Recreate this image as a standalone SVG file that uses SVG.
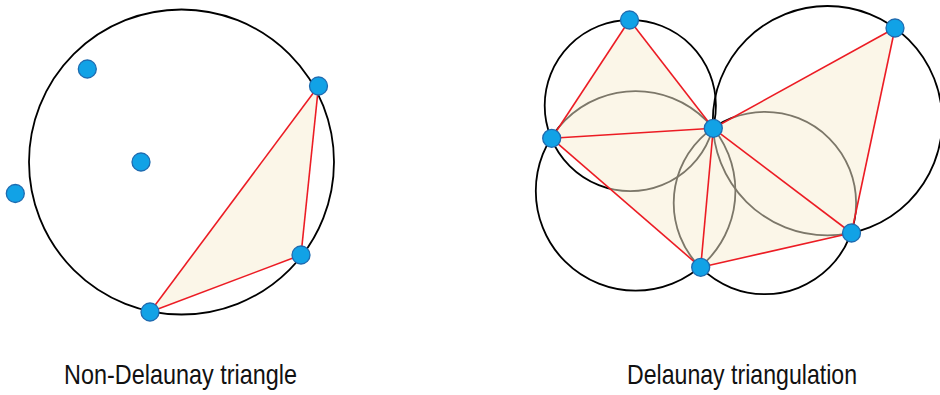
<svg xmlns="http://www.w3.org/2000/svg" width="940" height="395" viewBox="0 0 940 395">
<style>
.circ{fill:none;stroke:#000;stroke-width:1.8}
.tri{fill:#f8edd2;fill-opacity:0.5;stroke:none}
.edge{stroke:#ec1c24;stroke-width:1.6;fill:none}
.dot{fill:#11a2e6;stroke:#1e6bb0;stroke-width:1.3}
.lbl{font-family:"Liberation Sans",Arial,sans-serif;font-size:28px;fill:#111}
</style>
<rect width="940" height="395" fill="#fff"/>
<g id="circles">
<circle class="circ" cx="181.5" cy="162" r="152.5"/>
<circle class="circ" cx="630.3" cy="105.6" r="85.6"/>
<circle class="circ" cx="635.6" cy="190.9" r="99.8"/>
<circle class="circ" cx="827.5" cy="120.7" r="114.7"/>
<circle class="circ" cx="764.9" cy="203" r="91.2"/>
</g>
<g id="triangles">
<polygon class="tri" points="318.5,86 301,255 150,312"/>
<polygon class="tri" points="629.5,20 551.7,138.3 713.3,128.3"/>
<polygon class="tri" points="551.7,138.3 713.3,128.3 700.7,267.3"/>
<polygon class="tri" points="713.3,128.3 700.7,267.3 851.5,233"/>
<polygon class="tri" points="713.3,128.3 851.5,233 895,28"/>
</g>
<g id="connectors">
<line class="edge" x1="318.5" y1="86" x2="301" y2="255"/>
<line class="edge" x1="301" y1="255" x2="150" y2="312"/>
<line class="edge" x1="150" y1="312" x2="318.5" y2="86"/>
<line class="edge" x1="629.5" y1="20" x2="551.7" y2="138.3"/>
<line class="edge" x1="629.5" y1="20" x2="713.3" y2="128.3"/>
<line class="edge" x1="551.7" y1="138.3" x2="713.3" y2="128.3"/>
<line class="edge" x1="551.7" y1="138.3" x2="700.7" y2="267.3"/>
<line class="edge" x1="713.3" y1="128.3" x2="700.7" y2="267.3"/>
<line class="edge" x1="700.7" y1="267.3" x2="851.5" y2="233"/>
<line class="edge" x1="713.3" y1="128.3" x2="851.5" y2="233"/>
<line class="edge" x1="713.3" y1="128.3" x2="895" y2="28"/>
<line class="edge" x1="895" y1="28" x2="851.5" y2="233"/>
</g>
<g id="nodeL1"><circle class="dot" cx="87.3" cy="69" r="9"/></g>
<g id="nodeL2"><circle class="dot" cx="141" cy="162" r="9"/></g>
<g id="nodeL3"><circle class="dot" cx="15.3" cy="193.5" r="9"/></g>
<g id="nodeL4"><circle class="dot" cx="318.5" cy="86" r="9"/></g>
<g id="nodeL5"><circle class="dot" cx="301" cy="255" r="9"/></g>
<g id="nodeL6"><circle class="dot" cx="150" cy="312" r="9"/></g>
<g id="nodeR1"><circle class="dot" cx="629.5" cy="20" r="9"/></g>
<g id="nodeR2"><circle class="dot" cx="895" cy="28" r="9"/></g>
<g id="nodeR3"><circle class="dot" cx="551.7" cy="138.3" r="9"/></g>
<g id="nodeR4"><circle class="dot" cx="713.3" cy="128.3" r="9"/></g>
<g id="nodeR5"><circle class="dot" cx="851.5" cy="233" r="9"/></g>
<g id="nodeR6"><circle class="dot" cx="700.7" cy="267.3" r="9"/></g>
<g id="labels">
<text class="lbl" x="64" y="384" textLength="233" lengthAdjust="spacingAndGlyphs">Non-Delaunay triangle</text>
<text class="lbl" x="627" y="384" textLength="230" lengthAdjust="spacingAndGlyphs">Delaunay triangulation</text>
</g>
</svg>
